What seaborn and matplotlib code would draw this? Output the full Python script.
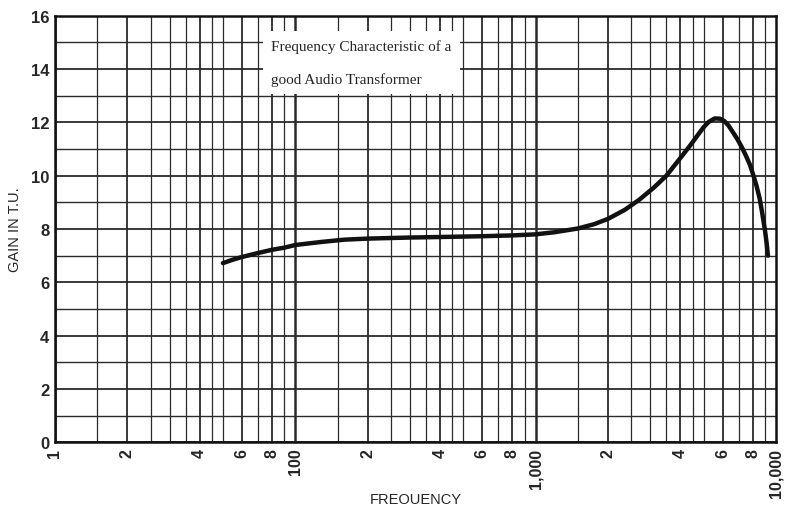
import numpy as np
import pandas as pd
import seaborn as sns
import matplotlib.pyplot as plt
from matplotlib.ticker import FixedLocator, NullFormatter

sns.set_style("white")
plt.rcParams['font.family'] = ['Liberation Sans', 'DejaVu Sans']

# values
freq = [50, 55, 60, 70, 80, 90, 100, 130, 160, 200, 300, 400, 600, 800, 1000,
        1200, 1500, 1750, 2000, 2350, 2700, 3100, 3500, 3950, 4400, 4750,
        5000, 5250, 5560, 5850, 6100, 6350, 6600, 6900, 7200, 7500, 7800,
        8050, 8300, 8550, 8750, 9000, 9150, 9260]
gain = [6.72, 6.85, 6.95, 7.1, 7.22, 7.3, 7.4, 7.52, 7.6, 7.64, 7.68, 7.7,
        7.73, 7.76, 7.8, 7.88, 8.02, 8.18, 8.38, 8.72, 9.1, 9.55, 10.0,
        10.6, 11.14, 11.55, 11.82, 12.02, 12.15, 12.14, 12.05, 11.88, 11.65,
        11.38, 11.08, 10.75, 10.4, 10.02, 9.62, 9.15, 8.64, 7.95, 7.45, 7.0]

xtick_pos = [10, 20, 40, 60, 80, 100, 200, 400, 600, 800, 1000, 2000, 4000,
             6000, 8000, 10000]
xtick_lab = ["1", "2", "4", "6", "8", "100", "2", "4", "6", "8", "1,000", "2",
             "4", "6", "8", "10,000"]
ytick_pos = [0, 2, 4, 6, 8, 10, 12, 14, 16]

grid_mult = [1, 1.5, 2, 2.5, 3, 3.5, 4, 4.5, 5, 6, 7, 8, 9]

df = pd.DataFrame({"freq": freq, "gain": gain})

fig = plt.figure(figsize=(7.85, 5.10), dpi=100)
ax = fig.add_axes([0.070, 0.131, 0.9185, 0.836])

# graph-paper grid
for dec in [10, 100, 1000]:
    for m in grid_mult:
        x = dec * m
        lw = 1.8 if m == 1 else (1.3 if m in (2, 4, 6, 8) else 0.9)
        ax.axvline(x, color="#2a2a2a", lw=lw, zorder=1)
for yv in range(0, 17):
    ax.axhline(yv, color="#2a2a2a", lw=1.3 if yv % 2 == 0 else 1.0, zorder=1)

sns.lineplot(data=df, x="freq", y="gain", color="#111111", lw=3.2, ax=ax,
             zorder=3, sort=False)

ax.set_xscale("log")
ax.set_xlim(10, 10000)
ax.set_ylim(0, 16)
ax.xaxis.set_major_locator(FixedLocator(xtick_pos))
ax.xaxis.set_minor_locator(FixedLocator([]))
ax.xaxis.set_minor_formatter(NullFormatter())
ax.set_xticks(xtick_pos)
ax.set_xticklabels(xtick_lab, rotation=90, fontsize=11.5, fontweight="bold")
ax.set_yticks(ytick_pos)
ax.set_yticklabels([str(v) for v in ytick_pos], fontsize=12, fontweight="bold")
ax.tick_params(axis="both", length=0, pad=4)

for s in ax.spines.values():
    s.set_color("#111111")
    s.set_linewidth(1.8)

ax.set_xlabel("FREOUENCY", fontsize=10.5, va="center")
ax.xaxis.set_label_coords(0.5, -0.134)
ax.set_ylabel("GAIN IN T.U.", fontsize=10.5, va="center")
ax.yaxis.set_label_coords(-0.055, 0.5)

ax.text(0.300, 0.944, "Frequency Characteristic of a\ngood Audio Transformer",
        transform=ax.transAxes, ha="left", va="top", fontsize=11,
        family=["Liberation Serif", "DejaVu Serif"], linespacing=2.7,
        zorder=4, bbox=dict(facecolor="white", edgecolor="none", pad=6))

fig.savefig("out.png", dpi=100, facecolor="white")
